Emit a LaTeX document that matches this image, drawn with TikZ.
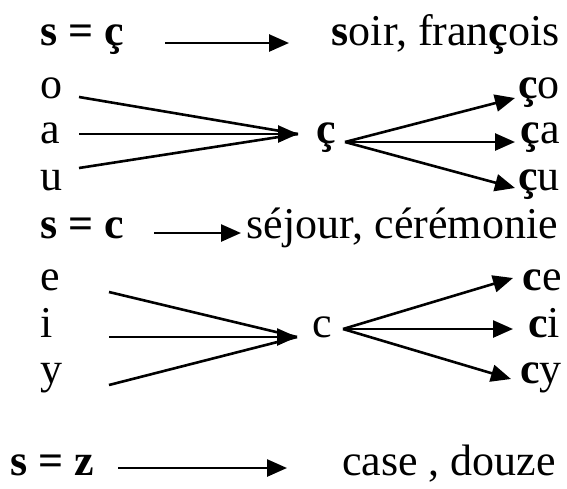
\documentclass[tikz,border=0pt]{standalone}
\usepackage{fontspec}
\setmainfont{Liberation Serif}
\usetikzlibrary{arrows.meta}
\tikzset{
  txt/.style={anchor=base west,inner sep=0pt,font=\fontsize{44}{50}\selectfont},
  txtr/.style={anchor=base east,inner sep=0pt,font=\fontsize{44}{50}\selectfont},
  arr/.style={line width=2.6pt,-{Triangle[length=20pt,width=17pt]}},
  ln/.style={line width=2.6pt}
}
\begin{document}
\begin{tikzpicture}[x=1pt,y=-1pt]
\useasboundingbox (0,0) rectangle (567,488);
% row 1
\node[txt] (s1) at (40,45) {\textbf{s = ç}};
\node[txtr] (w1) at (560,45) {\textbf{s}oir, fran\textbf{ç}ois};
\coordinate (a1s) at (165,43);
\coordinate (a1e) at (289,43);
\draw[arr] (a1s) -- (a1e);
% o a u
\node[txt] (o) at (40,98) {o};
\node[txt] (a) at (40,143) {a};
\node[txt] (u) at (40,190) {u};
\coordinate (os) at (79,97);
\coordinate (as) at (79,134);
\coordinate (us) at (79,168);
\coordinate (tc1) at (298,134);
\node[txt] (cc) at (316,143) {\textbf{ç}};
\draw[ln] (os) -- (tc1);
\draw[ln] (us) -- (tc1);
\draw[arr] (as) -- (tc1);
\coordinate (rc1) at (345,142);
\coordinate (co) at (515,98);
\coordinate (ca) at (515,142);
\coordinate (cu) at (515,188);
\draw[arr] (rc1) -- (co);
\draw[arr] (rc1) -- (ca);
\draw[arr] (rc1) -- (cu);
\node[txtr] (tco) at (560,98) {\textbf{ç}o};
\node[txtr] (tca) at (560,143) {\textbf{ç}a};
\node[txtr] (tcu) at (560,190) {\textbf{ç}u};
% row s = c
\node[txt] (s2) at (40,238) {\textbf{s = c}};
\node[txtr] (w2) at (558,238) {séjour, cérémonie};
\coordinate (a2s) at (154,233);
\coordinate (a2e) at (241,233);
\draw[arr] (a2s) -- (a2e);
% e i y
\node[txt] (e) at (40,290) {e};
\node[txt] (i) at (40,337) {i};
\node[txt] (y) at (40,383) {y};
\coordinate (es) at (109,292);
\coordinate (is) at (109,337);
\coordinate (ys) at (109,385);
\coordinate (tc2) at (297,337);
\draw[ln] (es) -- (tc2);
\draw[ln] (ys) -- (tc2);
\draw[arr] (is) -- (tc2);
\node[txt] (c) at (312,337) {c};
\coordinate (rc2) at (343,329);
\coordinate (ce) at (513,278);
\coordinate (ci) at (513,329);
\coordinate (cy) at (511,379);
\draw[arr] (rc2) -- (ce);
\draw[arr] (rc2) -- (ci);
\draw[arr] (rc2) -- (cy);
\node[txtr] (tce) at (562,290) {\textbf{c}e};
\node[txtr] (tci) at (560,337) {\textbf{c}i};
\node[txtr] (tcy) at (562,383) {\textbf{c}y};
% row s = z
\node[txt] (s3) at (10,475) {\textbf{s = z}};
\node[txtr] (w3) at (556,475) {case , douze};
\coordinate (a3s) at (118,468);
\coordinate (a3e) at (287,468);
\draw[arr] (a3s) -- (a3e);
\end{tikzpicture}
\end{document}
